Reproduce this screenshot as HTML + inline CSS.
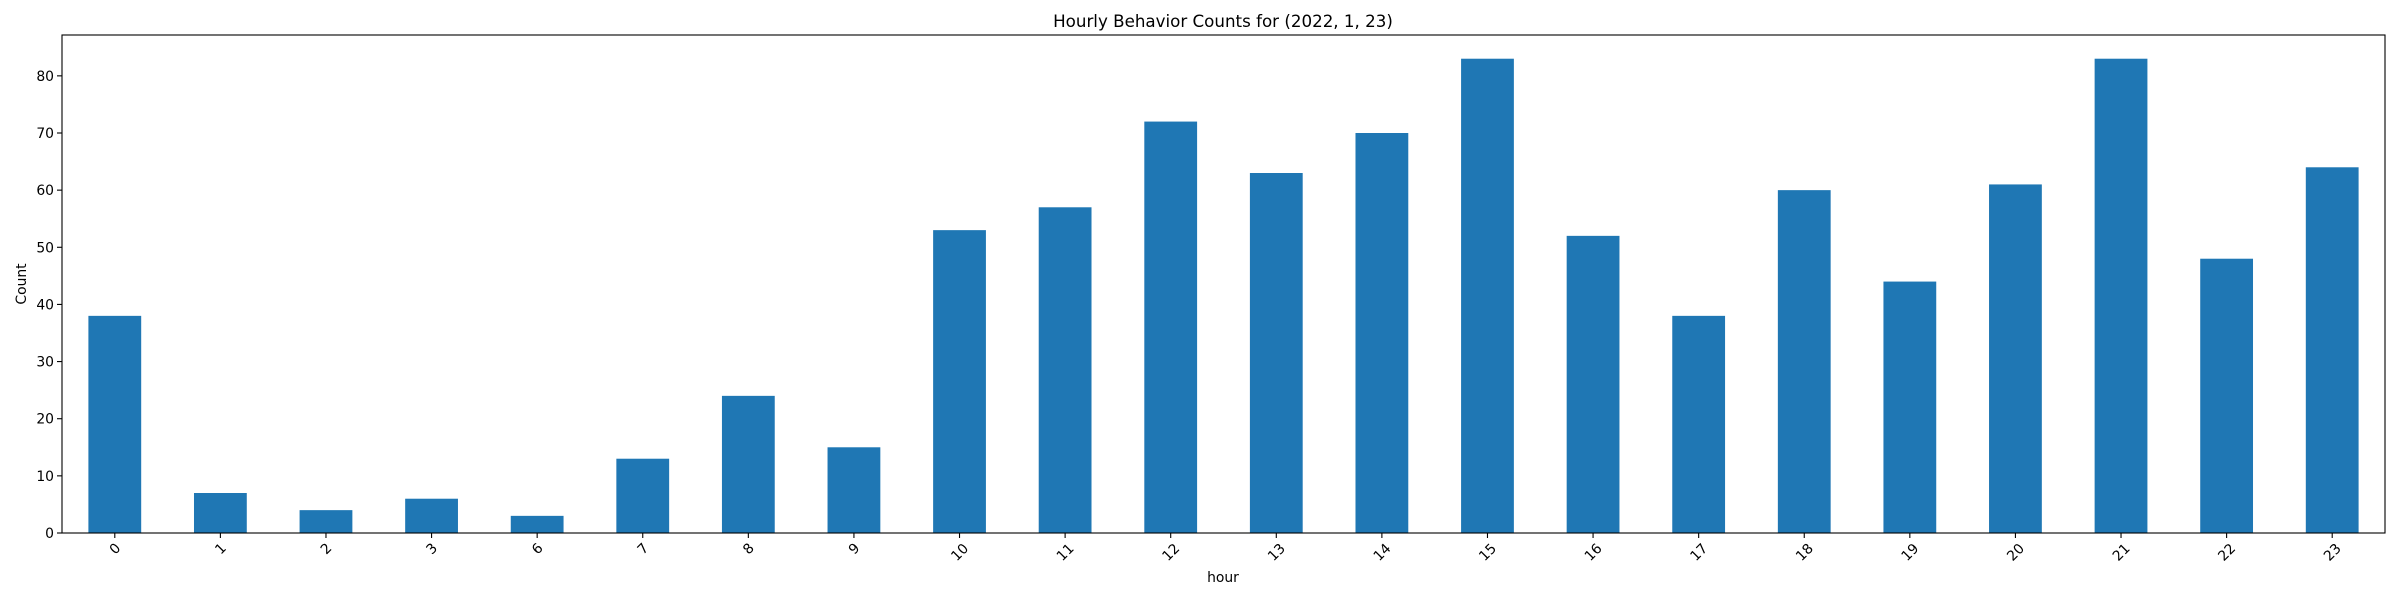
<!DOCTYPE html>
<html><head><meta charset="utf-8"><style>
html,body{margin:0;padding:0;background:#fff;}
svg{display:block;font-family:"DejaVu Sans","Liberation Sans",sans-serif;}
</style></head><body>
<svg id="chart" width="2400" height="600" xmlns="http://www.w3.org/2000/svg">
<rect width="2400" height="600" fill="#fff"/>
<text x="1223" y="27" font-size="16.7" text-anchor="middle" fill="#000">Hourly Behavior Counts for (2022, 1, 23)</text>
<text x="1223" y="582" font-size="13.9" text-anchor="middle" fill="#000">hour</text>
<text transform="translate(26,284) rotate(-90)" font-size="13.9" text-anchor="middle" fill="#000">Count</text>
<g id="bars"></g>
<g id="axes"></g>
</svg>
<script>
const categories = ["0","1","2","3","6","7","8","9","10","11","12","13","14","15","16","17","18","19","20","21","22","23"];
const counts = [38,7,4,6,3,13,24,15,53,57,72,63,70,83,52,38,60,44,61,83,48,64];
const yTicks = [0,10,20,30,40,50,60,70,80];

const L=62,R=2385,T=35,B=533;
const NS="http://www.w3.org/2000/svg";
const ymax=Math.max(...counts)*1.05;
const n=categories.length;
const step=(R-L)/n;
function xPos(i){return L+step*(i+0.5);}
function yPos(v){return B-(v/ymax)*(B-T);}
function mk(tag,attrs,parent){const e=document.createElementNS(NS,tag);for(const k in attrs)e.setAttribute(k,attrs[k]);parent.appendChild(e);return e;}
const bars=document.getElementById('bars');
const axes=document.getElementById('axes');
counts.forEach((v,i)=>{
  const r=mk('rect',{x:xPos(i)-step/4,y:yPos(v),width:step/2,height:B-yPos(v),fill:'#1f77b4'},bars);
  
  
});
const frame=mk('rect',{x:L,y:T,width:R-L,height:B-T,fill:'none',stroke:'#000','stroke-width':1.1},axes);


yTicks.forEach(t=>{
  const y=yPos(t);
  mk('line',{x1:L-5,x2:L,y1:y,y2:y,stroke:'#000','stroke-width':1.1},axes);
  const tx=mk('text',{x:L-8,y:y+5,'font-size':13.9,'text-anchor':'end',fill:'#000'},axes);
  tx.textContent=t;
  
  
});
categories.forEach((c,i)=>{
  const x=xPos(i);
  mk('line',{x1:x,x2:x,y1:B,y2:B+5,stroke:'#000','stroke-width':1.1},axes);
  const cy=B+12+c.length*3.5;
  const tx=mk('text',{transform:`translate(${x},${cy}) rotate(-45)`,'font-size':13.9,'text-anchor':'middle','dy':'0.35em',fill:'#000'},axes);
  tx.textContent=c;
  
  
});
</script>
</body></html>
